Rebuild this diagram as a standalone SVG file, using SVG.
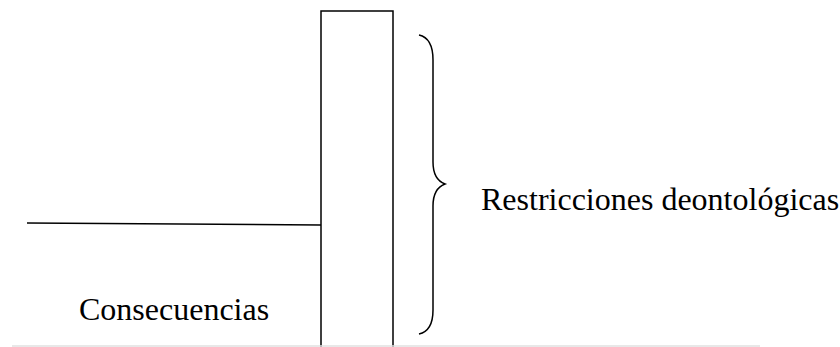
<svg xmlns="http://www.w3.org/2000/svg" width="840" height="347" viewBox="0 0 840 347">
  <style>
    .ln { fill: none; stroke: #000; stroke-width: 1.5; }
    .lbl { font-family: "Liberation Serif", "Times New Roman", serif; font-size: 32px; fill: #000; }
  </style>
  <rect x="0" y="0" width="840" height="347" fill="#fff"/>
  <g id="wall">
    <path class="ln" d="M321,360 V11 H393 V360"/>
  </g>
  <g id="brace">
    <path class="ln" d="M419,35 C428,37 433,45 433,60 V162 C433,174 437,181 445,184 C437,187 433,194 433,206 V310 C433,325 428,332 419,334"/>
  </g>
  <g id="connectors">
    <line class="ln" x1="27" y1="223" x2="321" y2="225"/>
  </g>
  <g id="labels">
    <text class="lbl" x="79" y="320">Consecuencias</text>
    <text class="lbl" x="481" y="210">Restricciones deontológicas</text>
  </g>
  <line x1="12" y1="346" x2="760" y2="346" stroke="#e0e0e0" stroke-width="1.5"/>
</svg>
